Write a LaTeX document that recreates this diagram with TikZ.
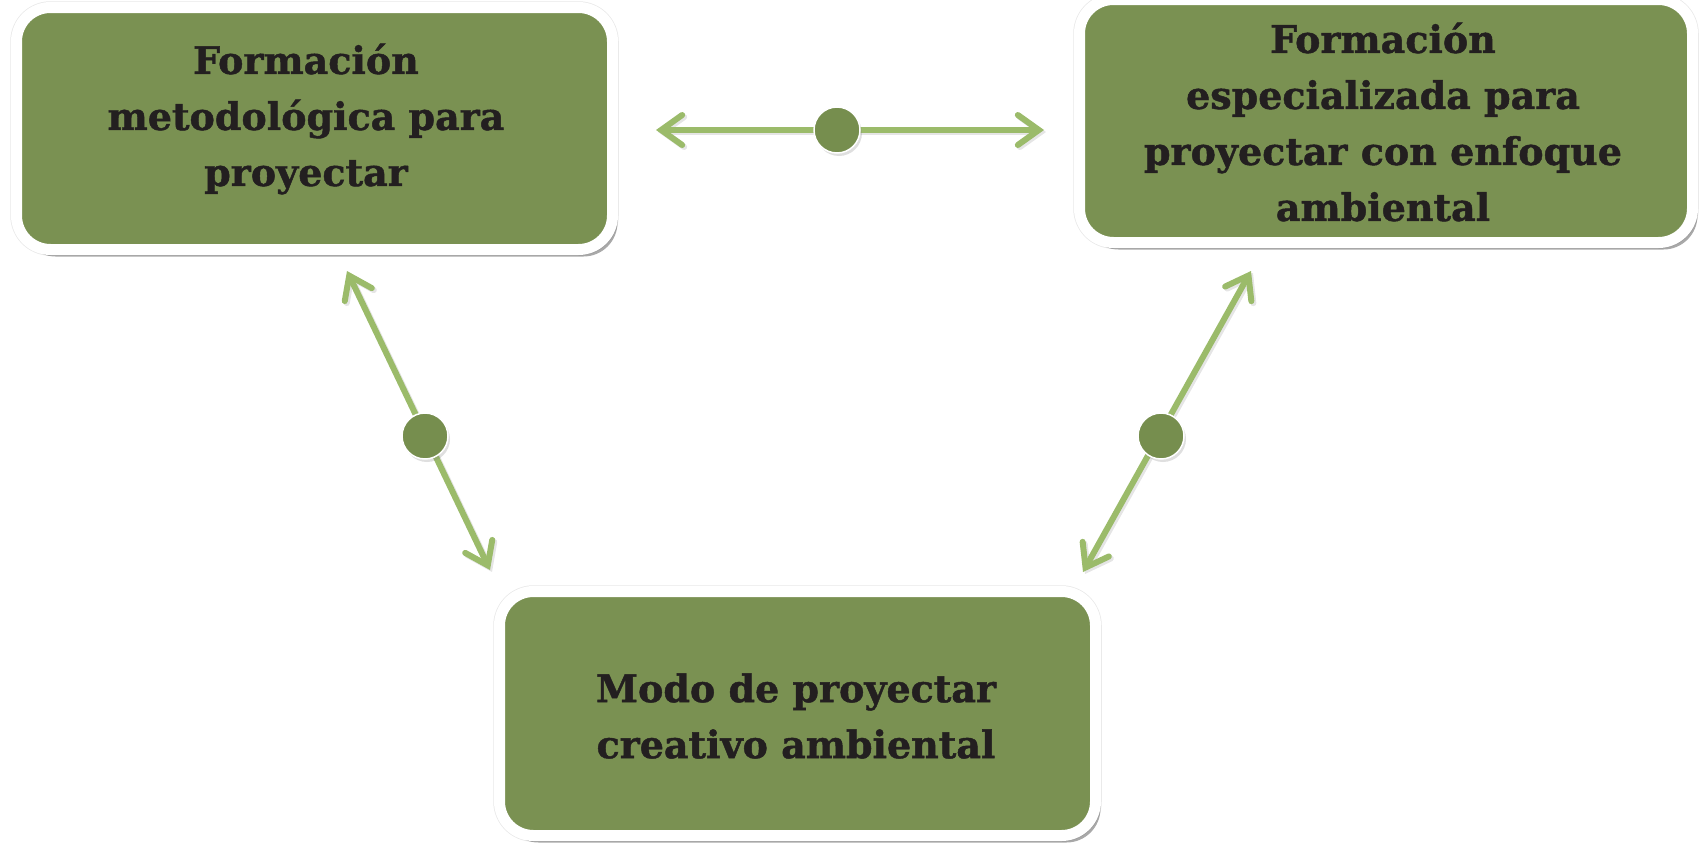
\documentclass[tikz,border=0pt]{standalone}
\usepackage{fontspec}
\setmainfont{DejaVu Serif}[BoldFeatures={FakeBold=1.2}]
\usetikzlibrary{arrows.meta,shadows}
\definecolor{boxgreen}{RGB}{122,145,82}
\definecolor{dotgreen}{RGB}{118,142,78}
\definecolor{arrgreen}{RGB}{155,187,106}
\definecolor{inkblack}{RGB}{35,31,32}
\tikzset{
  box/.style={draw=white, line width=11pt, fill=boxgreen, rounded corners=34pt,
    preaction={draw=black!9, line width=12.5pt},
    drop shadow={shadow xshift=5pt, shadow yshift=-7pt, opacity=0.45, fill=black!75}},
  boxtext/.style={align=center, font=\fontsize{38}{56}\selectfont\bfseries, text=inkblack},
  conn/.style={draw=arrgreen, line width=6pt, line cap=round,
    {Straight Barb[length=21pt,width=30pt,line width=6pt,line cap=round]}-{Straight Barb[length=21pt,width=30pt,line width=6pt,line cap=round]},
    preaction={draw=black!10, line width=6pt, transform canvas={xshift=2pt,yshift=-2pt}}},
  dot/.style={circle, fill=dotgreen, draw=white, line width=1.5pt, minimum size=46pt, inner sep=0pt,
    drop shadow={shadow xshift=2pt, shadow yshift=-3pt, opacity=0.25}}
}
\begin{document}
\begin{tikzpicture}[x=1pt,y=-1pt]
\useasboundingbox (0,0) rectangle (1701,846);
\node[box, minimum width=596pt, minimum height=242pt] (b1) at (314.5,128.5) {};
\node[box, minimum width=613pt, minimum height=243pt] (b2) at (1386,121) {};
\node[box, minimum width=596pt, minimum height=244pt] (b3) at (797.5,713.5) {};
\node[boxtext] (t1) at (306,119) {Formación\\metodológica para\\proyectar};
\node[boxtext] (t2) at (1383,122) {Formación\\especializada para\\proyectar con enfoque\\ambiental};
\node[boxtext] (t3) at (796,716) {Modo de proyectar\\creativo ambiental};
\coordinate (h1) at (656,130);
\coordinate (h2) at (1044,130);
\coordinate (l1) at (347,271);
\coordinate (l2) at (490,570);
\coordinate (r1) at (1251,271);
\coordinate (r2) at (1083,572);
\draw[conn] (h1) -- (h2);
\draw[conn] (l1) -- (l2);
\draw[conn] (r1) -- (r2);
\node[dot] (d1) at (837,130) {};
\node[dot] (d2) at (425,436) {};
\node[dot] (d3) at (1161,436) {};
\end{tikzpicture}
\end{document}
